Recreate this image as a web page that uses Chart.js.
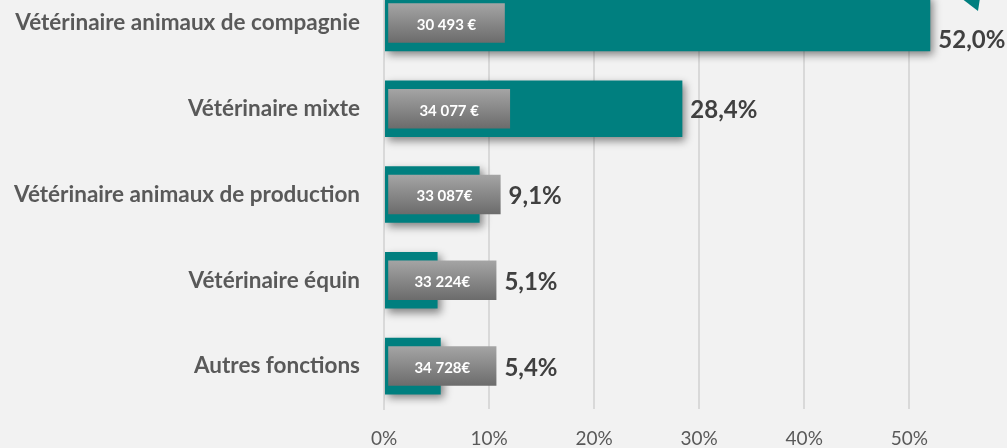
<!DOCTYPE html>
<html>
<head>
<meta charset="utf-8">
<script src="https://cdn.jsdelivr.net/npm/chart.js@4/dist/chart.umd.min.js"></script>
<style>
  html, body { margin: 0; padding: 0; background: #f2f2f2; overflow: hidden; }
  #wrap { position: absolute; left: 0; top: -20px; width: 1007px; height: 468px; }
</style>
</head>
<body>
<div id="wrap"><canvas id="c"></canvas></div>
<script>
// Répartition par fonction (%) et salaire moyen
const categories = [
  'Vétérinaire animaux de compagnie',
  'Vétérinaire mixte',
  'Vétérinaire animaux de production',
  'Vétérinaire équin',
  'Autres fonctions',
];
const shares = [52.0, 28.4, 9.1, 5.1, 5.4];
const shareLabels = ['52,0%', '28,4%', '9,1%', '5,1%', '5,4%'];
const salaryLabels = ['30 493 €', '34 077 €', '33 087€', '33 224€', '34 728€'];
// étiquettes grises (début / fin en % de l'axe)
const salaryBoxes = [[0.4, 11.5], [0.4, 12.0], [0.4, 11.1], [0.4, 10.7], [0.4, 10.7]];
const xTicks = [0, 10, 20, 30, 40, 50];

const TEAL = '#007f7f';
const FONT = 'Lato, "Open Sans", sans-serif';

function grayGradient(c) {
  const chart = c.chart;
  const y = chart.scales.y;
  if (!chart.chartArea || !y || c.dataIndex === undefined) return '#8a8a8a';
  const cy = y.getPixelForValue(c.dataIndex);
  const h = 20;
  const g = chart.ctx.createLinearGradient(0, cy - h, 0, cy + h);
  g.addColorStop(0, '#a5a5a5');
  g.addColorStop(1, '#6b6b6b');
  return g;
}

const shadowPlugin = {
  id: 'barShadow',
  beforeDatasetDraw(chart, args) {
    if (args.index !== 0) return;
    const ctx = chart.ctx;
    ctx.save();
    ctx.shadowColor = 'rgba(0,0,0,0.45)';
    ctx.shadowBlur = 8;
    ctx.shadowOffsetX = 3;
    ctx.shadowOffsetY = 4;
  },
  afterDatasetDraw(chart, args) {
    if (args.index !== 0) return;
    chart.ctx.restore();
  },
};

const labelPlugin = {
  id: 'labels',
  afterDatasetsDraw(chart) {
    const ctx = chart.ctx;
    const teal = chart.getDatasetMeta(0).data;
    const boxes = chart.getDatasetMeta(1).data;
    ctx.save();
    // salaires dans les boîtes grises
    ctx.font = 'bold 15px ' + FONT;
    ctx.fillStyle = '#ffffff';
    ctx.textAlign = 'center';
    ctx.textBaseline = 'middle';
    boxes.forEach((b, i) => {
      ctx.fillText(salaryLabels[i], (b.base + b.x) / 2, b.y + 2);
    });
    // pourcentages
    ctx.font = 'bold 24px ' + FONT;
    ctx.fillStyle = '#404040';
    ctx.textAlign = 'left';
    teal.forEach((t, i) => {
      const end = Math.max(t.x, boxes[i].x);
      const dy = i === 0 ? 17 : 2;
      ctx.fillText(shareLabels[i], end + 8, t.y + dy);
    });
    // petite flèche (callout) en haut à droite
    ctx.fillStyle = TEAL;
    ctx.beginPath();
    ctx.moveTo(961, 18);
    ctx.lineTo(980, 18);
    ctx.lineTo(978, 31);
    ctx.closePath();
    ctx.fill();
    ctx.restore();
  },
};

new Chart(document.getElementById('c'), {
  type: 'bar',
  data: {
    labels: categories,
    datasets: [
      {
        label: 'Part',
        data: shares,
        backgroundColor: TEAL,
        borderWidth: 0,
        barPercentage: 0.66,
        categoryPercentage: 1,
        grouped: false,
        order: 2,
      },
      {
        label: 'Salaire',
        data: salaryBoxes,
        backgroundColor: grayGradient,
        borderWidth: 0,
        borderSkipped: false,
        barPercentage: 0.46,
        categoryPercentage: 1,
        grouped: false,
        order: 1,
      },
    ],
  },
  options: {
    indexAxis: 'y',
    responsive: true,
    maintainAspectRatio: false,
    animation: false,
    layout: { padding: 0 },
    plugins: { legend: { display: false }, tooltip: { enabled: false } },
    scales: {
      x: {
        min: 0,
        max: 59.3,
        afterBuildTicks: (s) => { s.ticks = xTicks.map(v => ({ value: v })); },
        afterFit: (s) => { s.height = 39; s.paddingLeft = 0; s.paddingRight = 0; },
        grid: { color: '#d9d9d9', lineWidth: 2, drawTicks: false },
        border: { display: false },
        ticks: {
          color: '#595959',
          font: { family: FONT, size: 19 },
          padding: 18,
          callback: (v) => v + '%',
        },
      },
      y: {
        afterFit: (s) => { s.width = 384; s.paddingTop = 0; s.paddingBottom = 0; },
        grid: { display: false, drawTicks: false },
        border: { display: true, color: '#d9d9d9', width: 2 },
        ticks: {
          color: '#595959',
          font: { family: FONT, size: 22.5, weight: 'bold' },
          padding: 24,
        },
      },
    },
  },
  plugins: [shadowPlugin, labelPlugin],
});
</script>
</body>
</html>
